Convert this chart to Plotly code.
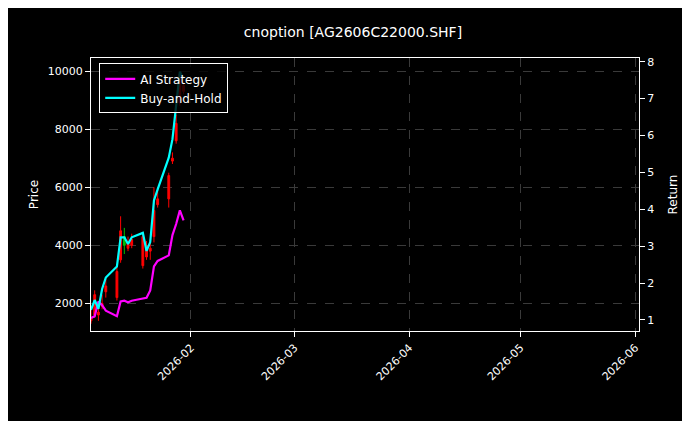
import plotly.graph_objects as go

dates = ["2026-01-05", "2026-01-06", "2026-01-07", "2026-01-08", "2026-01-09",
         "2026-01-12", "2026-01-13", "2026-01-14", "2026-01-15", "2026-01-16",
         "2026-01-19", "2026-01-20", "2026-01-21", "2026-01-22", "2026-01-23",
         "2026-01-26", "2026-01-27", "2026-01-28", "2026-01-29", "2026-01-30"]
open_ = [1500, 2300, 1700, 2000, 2600, 3100, 4500, 4000, 4100, 4200,
         4300, 4000, 3900, 5200, 5600, 6400, 7000, 8200, 9900, 9500]
high = [1800, 2450, 1900, 2300, 2900, 3300, 5000, 4600, 4300, 4400,
        4400, 4150, 4200, 6000, 6000, 6500, 7200, 8500, 10000, 9600]
low = [1300, 1500, 1400, 1800, 2200, 2100, 3400, 3700, 3800, 3900,
       3200, 3500, 3500, 4100, 5300, 5300, 6800, 7500, 8800, 9200]
close = [1400, 1600, 1600, 1900, 2400, 2200, 3500, 4300, 3900, 4000,
         3300, 3600, 3800, 4300, 5400, 5600, 6900, 7600, 8900, 9300]
ai_ret = [1.05, 1.1, 1.5, 1.4, 1.25, 1.1, 1.5, 1.52, 1.48, 1.52,
          1.58, 1.6, 1.8, 2.45, 2.6, 2.75, 3.3, 3.6, 3.97, 3.7]
bh_ret = [1.27, 1.54, 1.3, 1.84, 2.15, 2.45, 3.24, 3.24, 3.06, 3.24,
          3.36, 2.87, 3.11, 4.24, 4.54, 5.4, 5.9, 6.75, 7.73, 7.54]

fig = go.Figure()
fig.add_trace(go.Candlestick(x=dates, open=open_, high=high, low=low, close=close,
                             increasing=dict(line=dict(color="#00c000", width=1), fillcolor="#00c000"),
                             decreasing=dict(line=dict(color="#ff0000", width=1), fillcolor="#ff0000"),
                             whiskerwidth=0, showlegend=False))
fig.add_trace(go.Scatter(x=dates, y=ai_ret, name="AI Strategy", yaxis="y2",
                         line=dict(color="#ff00ff", width=2.2)))
fig.add_trace(go.Scatter(x=dates, y=bh_ret, name="Buy-and-Hold", yaxis="y2",
                         line=dict(color="#00ffff", width=2.2)))

grid = dict(showgrid=True, gridcolor="#3a3a3a", griddash="dash", gridwidth=0.5,
            showline=True, linecolor="white", mirror=True, ticks="outside",
            tickcolor="white", zeroline=False, automargin=False,
            tickfont=dict(size=11))
fig.update_layout(
    width=690, height=421,
    paper_bgcolor="black", plot_bgcolor="black",
    font=dict(family="DejaVu Sans", color="white", size=12),
    title=dict(text="cnoption [AG2606C22000.SHF]", x=0.5, y=0.955, font=dict(size=14)),
    margin=dict(l=83, r=59, t=50, b=98),
    xaxis=dict(**grid, range=["2026-01-05", "2026-06-02"], tickformat="%Y-%m",
               dtick="M1", tickangle=-45, rangeslider=dict(visible=False)),
    yaxis=dict(**grid, title=dict(text="Price", standoff=6, font=dict(size=12)),
               range=[1050, 10450], tickvals=[2000, 4000, 6000, 8000, 10000],
               ticktext=["2000", "4000", "6000", "8000", "10000"]),
    yaxis2=dict(title=dict(text="Return", font=dict(size=12)), overlaying="y", side="right",
                range=[0.7, 8.1], showgrid=False, ticks="outside", tickcolor="white",
                zeroline=False, automargin=False, tickfont=dict(size=11)),
    legend=dict(x=0.015, y=0.98, bgcolor="rgba(0,0,0,0.8)", bordercolor="white",
                borderwidth=1, font=dict(size=12)),
)
fig.write_html("out.html")
